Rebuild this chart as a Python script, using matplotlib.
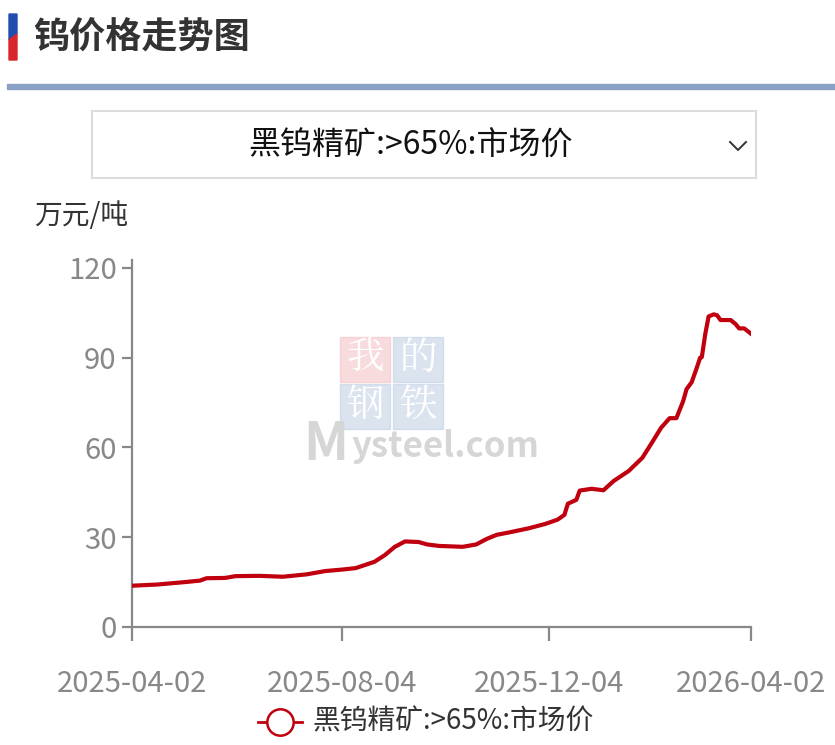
import numpy as np
import pandas as pd
import matplotlib
matplotlib.use("Agg")
import matplotlib.pyplot as plt
from matplotlib.patches import Rectangle, Polygon
from matplotlib.lines import Line2D

plt.rcParams['font.family'] = ['Noto Sans CJK SC', 'DejaVu Sans']

# price of black tungsten concentrate (>65%), 万元/吨
dates = ['2025-04-02', '2025-04-17', '2025-05-03', '2025-05-12', '2025-05-16',
         '2025-05-27', '2025-06-02', '2025-06-16', '2025-06-30', '2025-07-14',
         '2025-07-25', '2025-08-04', '2025-08-12', '2025-08-23', '2025-08-29',
         '2025-09-04', '2025-09-10', '2025-09-18', '2025-09-23', '2025-09-30',
         '2025-10-14', '2025-10-22', '2025-10-28', '2025-11-03', '2025-11-12',
         '2025-11-22', '2025-12-02', '2025-12-09', '2025-12-13', '2025-12-15',
         '2025-12-20', '2025-12-22', '2025-12-29', '2026-01-05', '2026-01-11',
         '2026-01-20', '2026-01-28', '2026-02-03', '2026-02-08', '2026-02-13',
         '2026-02-17', '2026-02-21', '2026-02-23', '2026-02-26', '2026-03-01',
         '2026-03-03', '2026-03-04', '2026-03-06', '2026-03-08', '2026-03-11',
         '2026-03-13', '2026-03-15', '2026-03-21', '2026-03-24', '2026-03-26',
         '2026-03-29', '2026-04-02']
prices = [13.8, 14.2, 15.0, 15.5, 16.3,
          16.4, 17.0, 17.1, 16.8, 17.6,
          18.7, 19.2, 19.7, 21.8, 24.0,
          26.8, 28.6, 28.4, 27.6, 27.1,
          26.8, 27.6, 29.4, 30.8, 31.8,
          33.0, 34.5, 35.9, 37.5, 41.2,
          42.5, 45.6, 46.2, 45.7, 48.8,
          52.2, 56.6, 62.0, 66.6, 69.8,
          69.8, 75.5, 79.5, 81.8, 86.6,
          90.0, 90.2, 97.8, 103.8, 104.5,
          104.2, 102.6, 102.6, 101.2, 99.8,
          99.8, 98.0]
tick_dates = ['2025-04-02', '2025-08-04', '2025-12-04', '2026-04-02']
series_name = '黑钨精矿:>65%:市场价'

x = pd.to_datetime(dates)
xt = pd.to_datetime(tick_dates)

fig = plt.figure(figsize=(8.35, 7.45), dpi=100)
W, H = 835, 745

def fx(px):
    return px / W

def fy(py):
    return 1 - py / H

# header: blue/red marker, title, separator
fig.patches.append(Polygon([(fx(9), fy(14)), (fx(17), fy(14)), (fx(17), fy(34)),
                            (fx(9), fy(40))], closed=True,
                           transform=fig.transFigure, color='#1f4fae'))
fig.patches.append(Polygon([(fx(9), fy(40)), (fx(17), fy(34)), (fx(17), fy(60)),
                            (fx(9), fy(60))], closed=True,
                           transform=fig.transFigure, color='#d8262c'))
fig.text(fx(33), fy(38), '钨价格走势图', fontsize=26, fontweight='bold',
         color='#333333', va='center', ha='left')
fig.patches.append(Rectangle((fx(7), fy(89)), 1, 5 / H, transform=fig.transFigure,
                             color='#8aa0c4'))

# dropdown box
fig.patches.append(Rectangle((fx(92), fy(178)), fx(756 - 92), 67 / H,
                             transform=fig.transFigure, fill=False,
                             edgecolor='#dcdcdc', lw=1.5))
fig.text(fx(410), fy(146), series_name, fontsize=23, color='#111111',
         ha='center', va='center')
fig.lines.append(Line2D([fx(730), fx(738), fx(746)], [fy(142), fy(150), fy(142)],
                        transform=fig.transFigure, color='#333333', lw=1.4))

fig.text(fx(34), fy(216), '万元/吨', fontsize=20, color='#333333',
         ha='left', va='center')

# watermark
for (px, py, ch, c) in [(340, 337, '我', '#f2b8bd'), (393, 337, '的', '#b8c8e0'),
                        (340, 384, '钢', '#b8c8e0'), (393, 384, '铁', '#b8c8e0')]:
    fig.patches.append(Rectangle((fx(px), fy(py + 45)), fx(50), 45 / H,
                                 transform=fig.transFigure, color=c, alpha=0.5, zorder=0))
    fig.text(fx(px + 25), fy(py + 22), ch, fontsize=27, color='white',
             ha='center', va='center', family='Noto Serif CJK SC', zorder=0)
fig.text(fx(303), fy(445), 'M', fontsize=38, color='#d6d6d6', ha='left',
         va='center', fontweight='bold', zorder=0)
fig.text(fx(352), fy(447), 'ysteel.com', fontsize=25, color='#d6d6d6', ha='left',
         va='center', fontweight='bold', zorder=0)

# chart
ax = fig.add_axes([fx(132), fy(627), fx(751 - 132), 367 / H])
ax.patch.set_alpha(0)
ax.plot(x, prices, color='#c0000f', lw=3, solid_joinstyle='round', zorder=3)
ax.set_ylim(0, 120 + 8 / 3)
ax.set_xlim(xt[0], xt[-1])
ax.set_yticks([0, 30, 60, 90, 120])
ax.set_xticks(xt)
ax.set_xticklabels(tick_dates)
for s in ['top', 'right']:
    ax.spines[s].set_visible(False)
for s in ['left', 'bottom']:
    ax.spines[s].set_color('#888888')
    ax.spines[s].set_linewidth(1.6)
ax.tick_params(axis='y', length=7, width=1.6, color='#888888', labelcolor='#888888',
               labelsize=21, pad=4)
ax.tick_params(axis='x', length=10, width=1.6, color='#888888', labelcolor='#888888',
               labelsize=21, pad=20)

# legend
fig.lines.append(Line2D([fx(258), fx(302)], [fy(722), fy(722)],
                        transform=fig.transFigure, color='#c0000f', lw=2))
fig.lines.append(Line2D([fx(280)], [fy(722)], transform=fig.transFigure,
                        marker='o', markersize=19, markerfacecolor='white',
                        markeredgecolor='#c0000f', markeredgewidth=1.8, lw=0))
fig.text(fx(312), fy(721), series_name, fontsize=20, color='#333333',
         ha='left', va='center')

fig.savefig('out.png', dpi=100)
